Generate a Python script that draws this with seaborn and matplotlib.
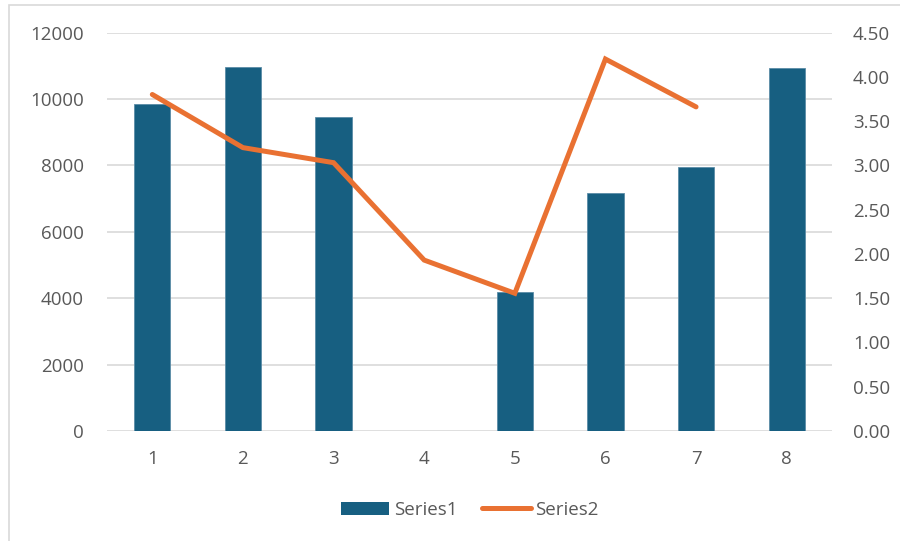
import numpy as np
import pandas as pd
import matplotlib
matplotlib.use("Agg")
import matplotlib.pyplot as plt
from matplotlib.patches import Rectangle
from matplotlib.lines import Line2D
import seaborn as sns

# Data
categories = ["1", "2", "3", "4", "5", "6", "7", "8"]
series1 = [9840, 10950, 9450, np.nan, 4180, 7170, 7950, 10930]
series2 = [3.80, 3.20, 3.03, 1.93, 1.555, 4.20, 3.66, np.nan]

bar_color = "#175F81"
line_color = "#E97132"
text_color = "#595959"
grid_color = "#D9D9D9"
font_size = 13.5

sns.set_theme(style="white")
plt.rcParams["font.family"] = ["Open Sans", "DejaVu Sans"]

fig = plt.figure(figsize=(9.0, 5.41), dpi=100)
ax = fig.add_axes([107 / 900, 1 - 431 / 541, (832 - 107) / 900, (431 - 32.5) / 541])

df = pd.DataFrame({"cat": categories, "s1": series1, "s2": series2,
                   "pos": np.arange(len(categories))})

# Bars on the primary axis
sns.barplot(data=df, x="cat", y="s1", order=categories, color=bar_color,
            width=0.4, saturation=1, ax=ax, edgecolor="#5B8CA6", linewidth=0.6)

ax.set_ylim(0, 12000)
ax.set_xlim(-0.5, len(categories) - 0.5)
ax.set_yticks(np.arange(0, 12001, 2000))
ax.set_yticklabels([f"{v:d}" for v in range(0, 12001, 2000)])
ax.yaxis.grid(True, color=grid_color, linewidth=1.2)
ax.set_axisbelow(True)
ax.set_xlabel("")
ax.set_ylabel("")
for s in ax.spines.values():
    s.set_visible(False)
ax.tick_params(axis="both", length=0, labelsize=font_size, labelcolor=text_color)
ax.tick_params(axis="y", pad=16.5)
ax.tick_params(axis="x", pad=14)

# Line on the secondary axis
ax2 = ax.twinx()
sns.lineplot(data=df.dropna(subset=["s2"]), x="pos", y="s2", color=line_color,
             linewidth=3.6, ax=ax2, solid_capstyle="round", solid_joinstyle="miter",
             sort=False)
ax2.set_ylim(0, 4.5)
ax2.set_xlim(-0.5, len(categories) - 0.5)
ax2.set_yticks(np.arange(0, 4.51, 0.5))
ax2.set_yticklabels([f"{v:.2f}" for v in np.arange(0, 4.51, 0.5)])
ax2.set_ylabel("")
ax2.set_xlabel("")
for s in ax2.spines.values():
    s.set_visible(False)
ax2.tick_params(axis="y", length=0, labelsize=font_size, labelcolor=text_color, pad=15)
ax2.grid(False)

# Legend
handles = [Rectangle((0, 0), 1, 1, facecolor=bar_color, edgecolor="none"),
           Line2D([0], [0], color=line_color, linewidth=3.6, solid_capstyle="round")]
fig.legend(handles, ["Series1", "Series2"], loc="center", ncol=2,
           bbox_to_anchor=(0.522, 1 - 510 / 541), frameon=False,
           fontsize=font_size, labelcolor=text_color, handlelength=2.6,
           handleheight=0.75, handletextpad=0.25, columnspacing=1.3)

# Chart area border
fig.patches.append(Rectangle((9 / 900, -0.02), 1.0, 1 - 5 / 541 + 0.02,
                             transform=fig.transFigure, fill=False,
                             edgecolor="#D9D9D9", linewidth=1.2))

fig.savefig("out.png", dpi=100)
